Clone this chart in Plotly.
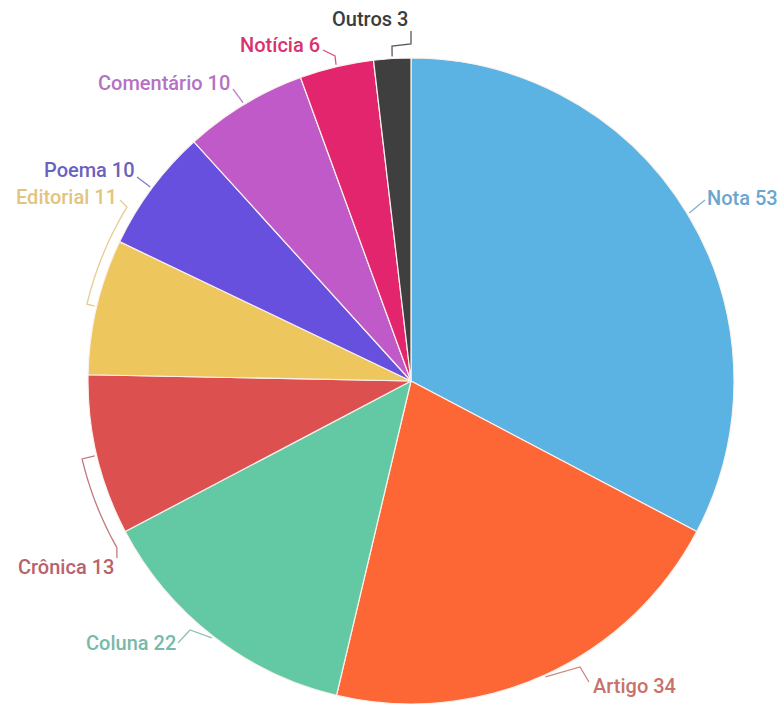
import numpy as np
import plotly.graph_objects as go

# Data
categories = ["Nota", "Artigo", "Coluna", "Crônica", "Editorial", "Poema", "Comentário", "Notícia", "Outros"]
values = [53, 34, 22, 13, 11, 10, 10, 6, 3]

slice_colors = ["#5bb3e3", "#fc6735", "#63c9a4", "#dc5050", "#edc65e",
                "#6650dd", "#c05ac8", "#e3256d", "#3f3f3f"]
label_colors = ["#6aa6cf", "#c8726c", "#7ab8a8", "#b9626b", "#e2c47e",
                "#6a62bf", "#b572c2", "#d8336f", "#3c3c3c"]

# Canvas and pie geometry (pixels)
W, H = 782, 704
ML, MR, MT, MB = 88, 48, 58, 0
R = (W - ML - MR) / 2
CX, CY = ML + R, MT + R


def to_paper(px, py):
    return (px - ML) / (2 * R), (H - MB - py) / (2 * R)


def polar(angle_deg, radius):
    a = np.radians(angle_deg)
    return CX + radius * np.sin(a), CY - radius * np.cos(a)


total = sum(values)
cum = np.cumsum([0] + values)
mid_angles = [(cum[i] + values[i] / 2) / total * 360 for i in range(len(values))]

# Label placement: anchor pixel, x-anchor, and leader route
label_layout = {
    "Nota":       dict(pos=(705, 198), anchor="left",  via=[(705, 200)]),
    "Artigo":     dict(pos=(591, 686), anchor="left",  via=[(580, 667), (589, 682)]),
    "Coluna":     dict(pos=(178, 643), anchor="right", via=[(190, 630), (178, 643)]),
    "Crônica":    dict(pos=(116, 567), anchor="right", arc=(338, 240.5), via=[(117, 558)]),
    "Editorial":  dict(pos=(119, 197), anchor="right", arc=(333, 301.5), via=[(120, 200)]),
    "Poema":      dict(pos=(137, 170), anchor="right", via=[(137, 177)]),
    "Comentário": dict(pos=(232, 83),  anchor="right", via=[(233, 89)]),
    "Notícia":    dict(pos=(322, 45),  anchor="right", via=[(335, 56), (323, 50)]),
    "Outros":     dict(pos=(410, 19),  anchor="right", via=[(392, 46), (411, 44), (411, 31)]),
}

fig = go.Figure(go.Pie(
    labels=categories,
    values=values,
    sort=False,
    direction="clockwise",
    rotation=0,
    marker=dict(colors=slice_colors, line=dict(color="#fbf1ec", width=1.2)),
    textinfo="none",
    hoverinfo="label+value",
    showlegend=False,
))

shapes = []
annotations = []
for i, name in enumerate(categories):
    cfg = label_layout[name]
    col = label_colors[i]
    pts = [polar(mid_angles[i], R + 2)]
    if "arc" in cfg:
        rad, end_ang = cfg["arc"]
        pts.append(polar(mid_angles[i], rad))
        for a in np.linspace(mid_angles[i], end_ang, 24):
            pts.append(polar(a, rad))
    pts += cfg["via"]
    paper_pts = [to_paper(x, y) for x, y in pts]
    path = "M " + " L ".join(f"{x:.5f},{y:.5f}" for x, y in paper_pts)
    shapes.append(dict(type="path", path=path, xref="paper", yref="paper",
                       line=dict(color=col, width=1.3), opacity=0.85, layer="above"))
    ax, ay = to_paper(*cfg["pos"])
    annotations.append(dict(
        x=ax, y=ay, xref="paper", yref="paper",
        text=f"{name} {values[i]}", showarrow=False,
        xanchor=cfg["anchor"], yanchor="middle",
        font=dict(family="Roboto", size=20, color=col, weight=500),
    ))

fig.update_layout(
    width=W, height=H,
    margin=dict(l=ML, r=MR, t=MT, b=MB),
    paper_bgcolor="white",
    plot_bgcolor="white",
    shapes=shapes,
    annotations=annotations,
)

fig.write_html("out.html")
